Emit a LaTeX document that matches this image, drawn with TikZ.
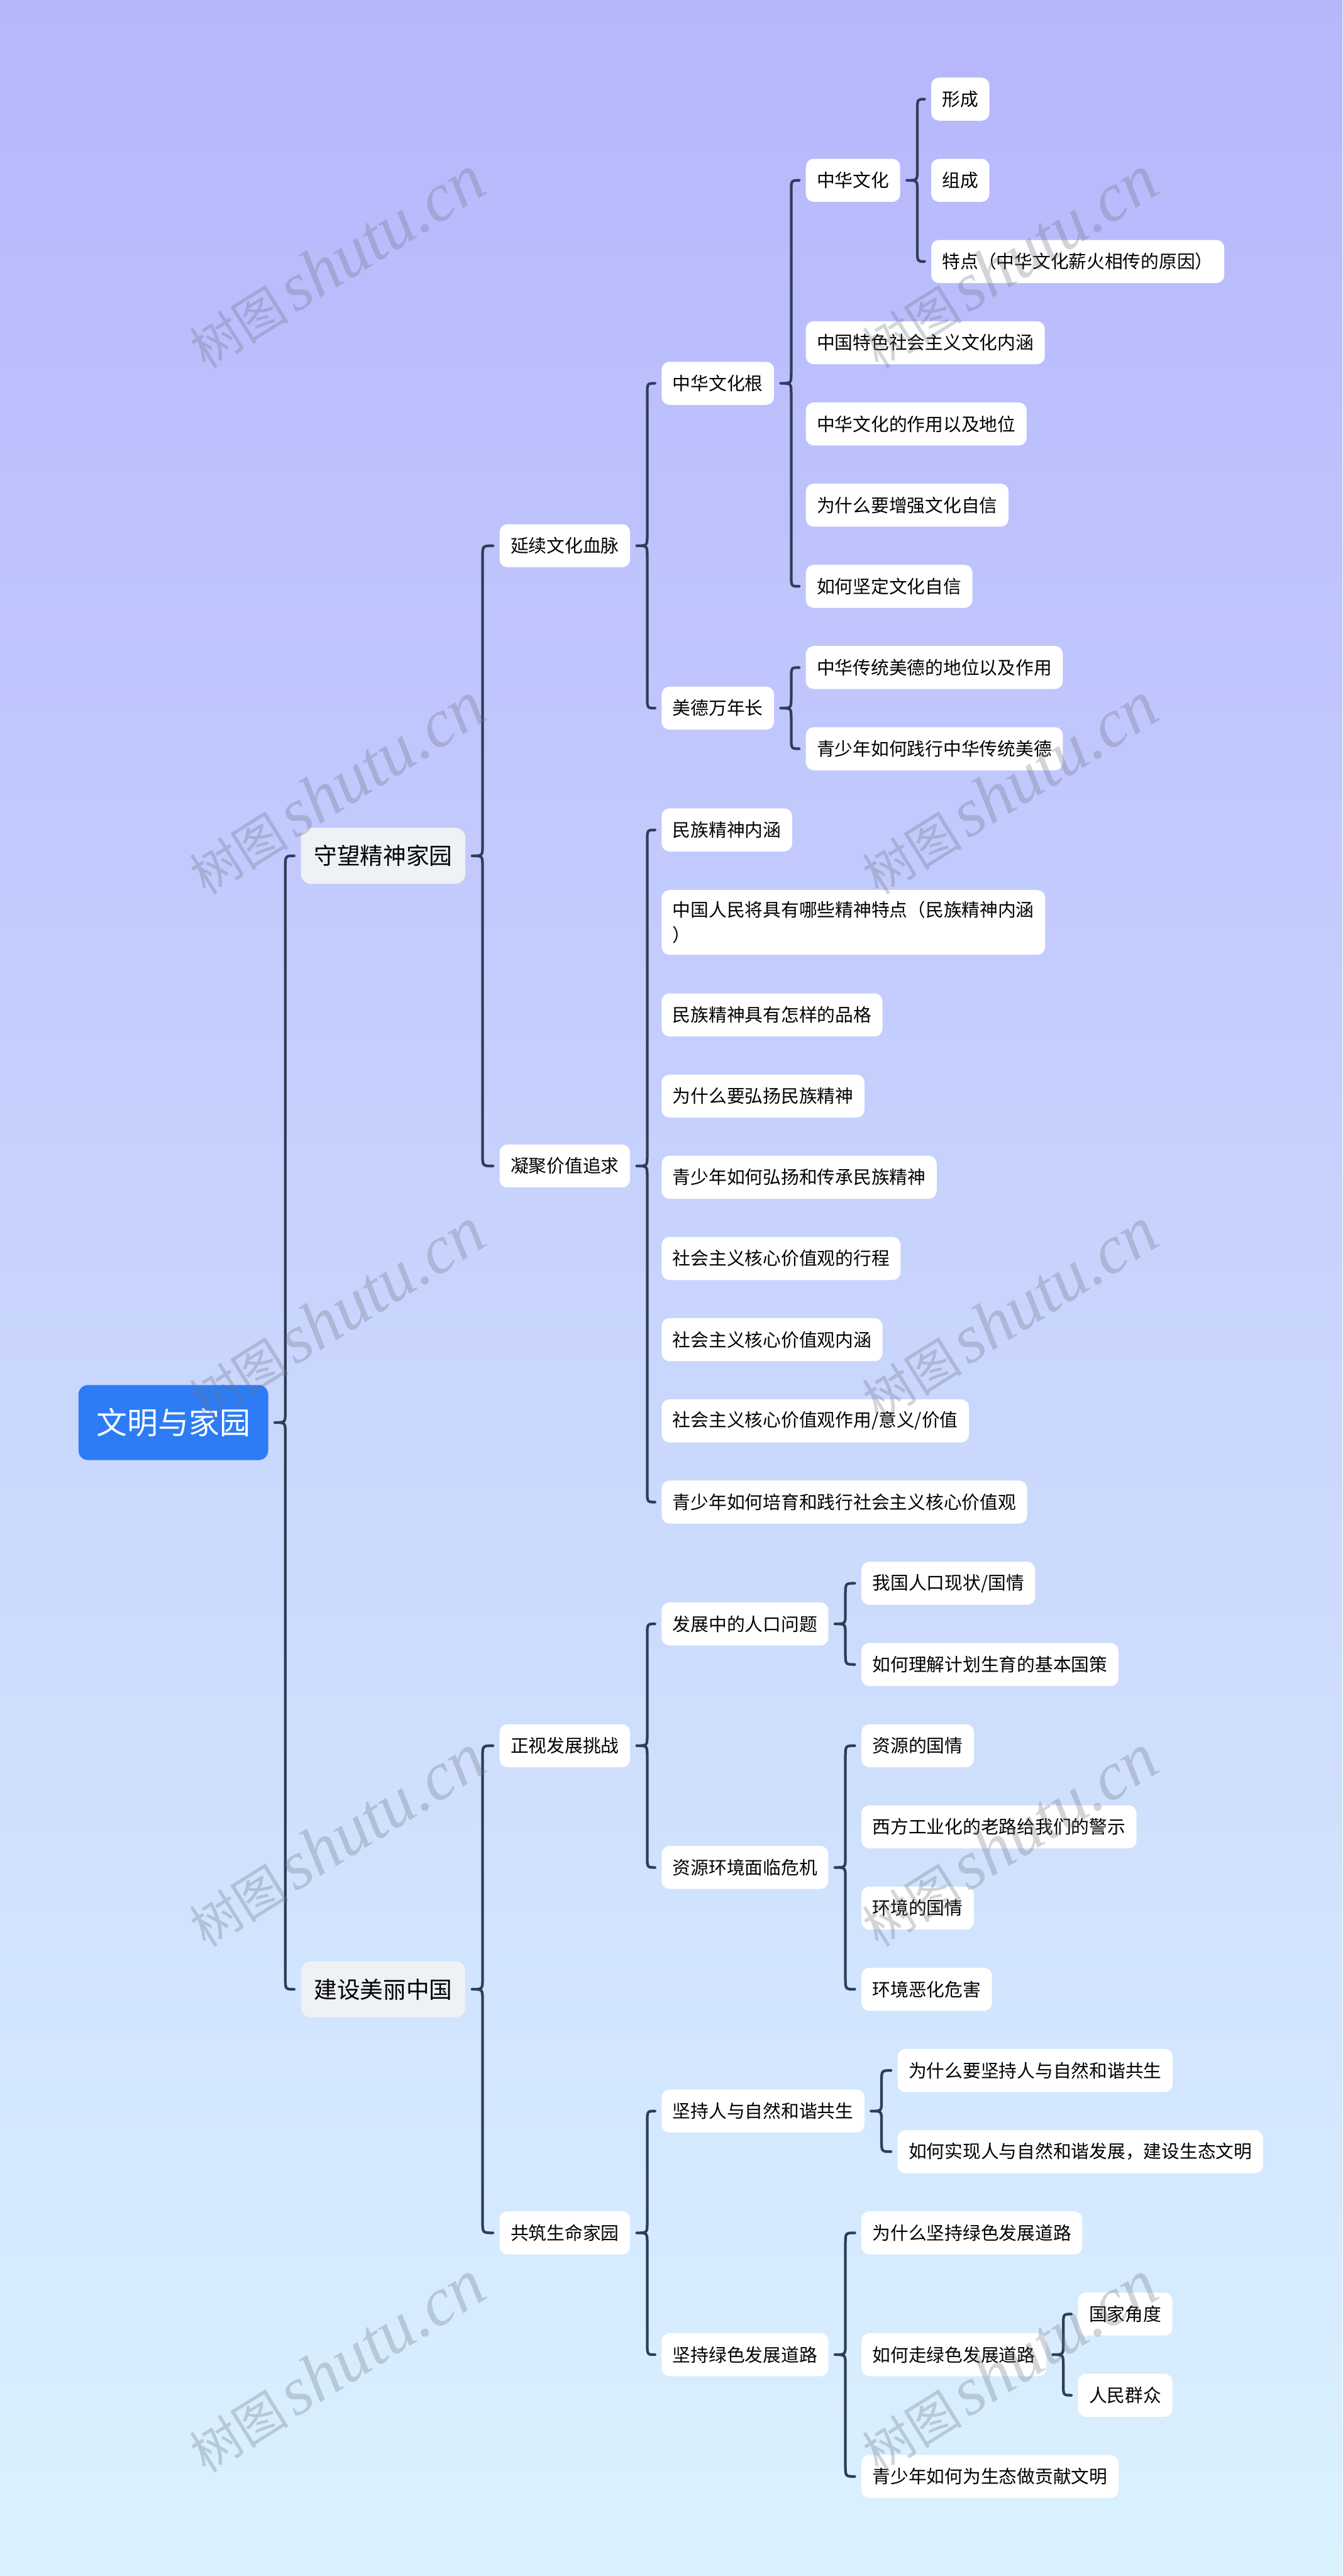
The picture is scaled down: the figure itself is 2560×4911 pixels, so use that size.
\documentclass[tikz,border=0pt]{standalone}
\usepackage{fontspec}
\usepackage{xcolor}
\usepackage{tikz}
\usetikzlibrary{calc}
\newfontfamily\cjk{Noto Sans CJK SC}
\newfontfamily\wmserif{Liberation Serif}
\definecolor{bgtop}{RGB}{182,182,252}
\definecolor{bgbottom}{RGB}{218,242,254}
\definecolor{rootblue}{RGB}{45,124,246}
\definecolor{topicgrey}{RGB}{238,241,246}
\definecolor{linkdark}{RGB}{46,62,88}
\definecolor{wmgrey}{RGB}{110,115,125}
\tikzset{
  rootnode/.style={rectangle, fill=rootblue, text=white, anchor=west,
    rounded corners=0.18cm, minimum height=1.43cm, inner xsep=0.34cm, inner ysep=0pt,
    font=\cjk\fontsize{16.7pt}{20pt}\selectfont},
  topicnode/.style={rectangle, fill=topicgrey, anchor=west,
    rounded corners=0.2cm, minimum height=1.07cm, inner xsep=0.25cm, inner ysep=0pt,
    font=\cjk\fontsize{12.5pt}{15pt}\selectfont},
  leafnode/.style={rectangle, fill=white, anchor=west, align=left,
    rounded corners=0.15cm, minimum height=0.82cm, inner xsep=0.21cm, inner ysep=0.21cm,
    font=\cjk\fontsize{9.8pt}{13.8pt}\selectfont},
  link/.style={draw=linkdark, line width=1.45pt, line cap=round, line join=round},
  watermark/.style={text=wmgrey, text opacity=0.3, rotate=32}
}
% brace from a parent to its first and last child
\newcommand{\fenzhi}[3]{%
  \draw[link] let \p1=(#1.east), \p2=(#2.west), \p3=(#3.west),
    \p4=($(#1.east)+(32,0)$) in
    (\x2-3.41pt,\y2) .. controls (\x4,\y2) .. (\x4,\y2-6.26pt)
    -- (\x4,\y1+5.69pt) .. controls (\x4,\y1) .. (\x1+3.41pt,\y1)
    .. controls (\x4,\y1) .. (\x4,\y1-5.69pt)
    -- (\x4,\y3+6.26pt) .. controls (\x4,\y3) .. (\x3-3.41pt,\y3);
}

\begin{document}
\begin{tikzpicture}[x=0.01cm, y=-0.01cm]
  \useasboundingbox (0,0) rectangle (2560,4911);
  \shade[top color=bgtop, bottom color=bgbottom] (0,0) rectangle (2560,4911);

  % root and main topics
  \node[rootnode] (wmjy) at (149,2712) {文明与家园};
  \node[topicnode] (swjs) at (573,1631.6) {守望精神家园};
  \node[topicnode] (jsml) at (573,3792.4) {建设美丽中国};

  % second level
  \node[leafnode] (yxwh) at (952,1040.4) {延续文化血脉};
  \node[leafnode] (njjz) at (952,2222.9) {凝聚价值追求};
  \node[leafnode] (zsfz) at (952,3328) {正视发展挑战};
  \node[leafnode] (gzsm) at (952,4256.8) {共筑生命家园};

  % third level
  \node[leafnode] (whg) at (1261,730.8) {中华文化根};
  \node[leafnode] (mdwn) at (1261,1350) {美德万年长};
  \node[leafnode] (mzjs) at (1261,1582.2) {民族精神内涵};
  \node[leafnode] (jstd) at (1261,1758.5) {中国人民将具有哪些精神特点（民族精神内涵\\）};
  \node[leafnode] (pinge) at (1261,1934.8) {民族精神具有怎样的品格};
  \node[leafnode] (hymz) at (1261,2089.6) {为什么要弘扬民族精神};
  \node[leafnode] (ccmz) at (1261,2244.4) {青少年如何弘扬和传承民族精神};
  \node[leafnode] (hxxc) at (1261,2399.2) {社会主义核心价值观的行程};
  \node[leafnode] (hxnh) at (1261,2554) {社会主义核心价值观内涵};
  \node[leafnode] (hxzy) at (1261,2708.8) {社会主义核心价值观作用/意义/价值};
  \node[leafnode] (hxsx) at (1261,2863.6) {青少年如何培育和践行社会主义核心价值观};
  \node[leafnode] (rkwt) at (1261,3095.8) {发展中的人口问题};
  \node[leafnode] (zyhj) at (1261,3560.2) {资源环境面临危机};
  \node[leafnode] (rzhx) at (1261,4024.6) {坚持人与自然和谐共生};
  \node[leafnode] (lsfz) at (1261,4489) {坚持绿色发展道路};

  % fourth level
  \node[leafnode] (zhwh) at (1536,343.8) {中华文化};
  \node[leafnode] (tsnh) at (1536,653.4) {中国特色社会主义文化内涵};
  \node[leafnode] (zydw) at (1536,808.2) {中华文化的作用以及地位};
  \node[leafnode] (zqzx) at (1536,963) {为什么要增强文化自信};
  \node[leafnode] (jdzx) at (1536,1117.8) {如何坚定文化自信};
  \node[leafnode] (mddw) at (1536,1272.6) {中华传统美德的地位以及作用};
  \node[leafnode] (sxmd) at (1536,1427.4) {青少年如何践行中华传统美德};

  \node[leafnode] (rkxz) at (1642,3018.4) {我国人口现状/国情};
  \node[leafnode] (jhsy) at (1642,3173.2) {如何理解计划生育的基本国策};
  \node[leafnode] (zygq) at (1642,3328) {资源的国情};
  \node[leafnode] (xfjs) at (1642,3482.8) {西方工业化的老路给我们的警示};
  \node[leafnode] (hjgq) at (1642,3637.6) {环境的国情};
  \node[leafnode] (hjwh) at (1642,3792.4) {环境恶化危害};
  \node[leafnode] (wsgc) at (1711,3947.2) {为什么要坚持人与自然和谐共生};
  \node[leafnode] (sxrz) at (1711,4102) {如何实现人与自然和谐发展，建设生态文明};
  \node[leafnode] (wslz) at (1642,4256.8) {为什么坚持绿色发展道路};
  \node[leafnode] (zlsd) at (1642,4489) {如何走绿色发展道路};
  \node[leafnode] (sxgx) at (1642,4721.2) {青少年如何为生态做贡献文明};

  % fifth level
  \node[leafnode] (xc) at (1775,189) {形成};
  \node[leafnode] (zc) at (1775,343.8) {组成};
  \node[leafnode] (td) at (1775,498.6) {特点（中华文化薪火相传的原因）};
  \node[leafnode] (gjjd) at (2055,4411.6) {国家角度};
  \node[leafnode] (rmqz) at (2055,4566.4) {人民群众};

  % braces
  \fenzhi{wmjy}{swjs}{jsml}
  \fenzhi{swjs}{yxwh}{njjz}
  \fenzhi{jsml}{zsfz}{gzsm}
  \fenzhi{yxwh}{whg}{mdwn}
  \fenzhi{whg}{zhwh}{jdzx}
  \fenzhi{zhwh}{xc}{td}
  \fenzhi{mdwn}{mddw}{sxmd}
  \fenzhi{njjz}{mzjs}{hxsx}
  \fenzhi{zsfz}{rkwt}{zyhj}
  \fenzhi{rkwt}{rkxz}{jhsy}
  \fenzhi{zyhj}{zygq}{hjwh}
  \fenzhi{gzsm}{rzhx}{lsfz}
  \fenzhi{rzhx}{wsgc}{sxrz}
  \fenzhi{lsfz}{wslz}{sxgx}
  \fenzhi{zlsd}{gjjd}{rmqz}

  % watermark
  \foreach \wx in {642,1925}
    \foreach \wy in {500,1503,2506,3509,4512}
      \node[watermark] (sy-\wx-\wy) at (\wx,\wy)
        {{\cjk\fontsize{27pt}{27pt}\selectfont 树图} {\wmserif\itshape\fontsize{37pt}{37pt}\selectfont shutu.cn}};
\end{tikzpicture}
\end{document}
